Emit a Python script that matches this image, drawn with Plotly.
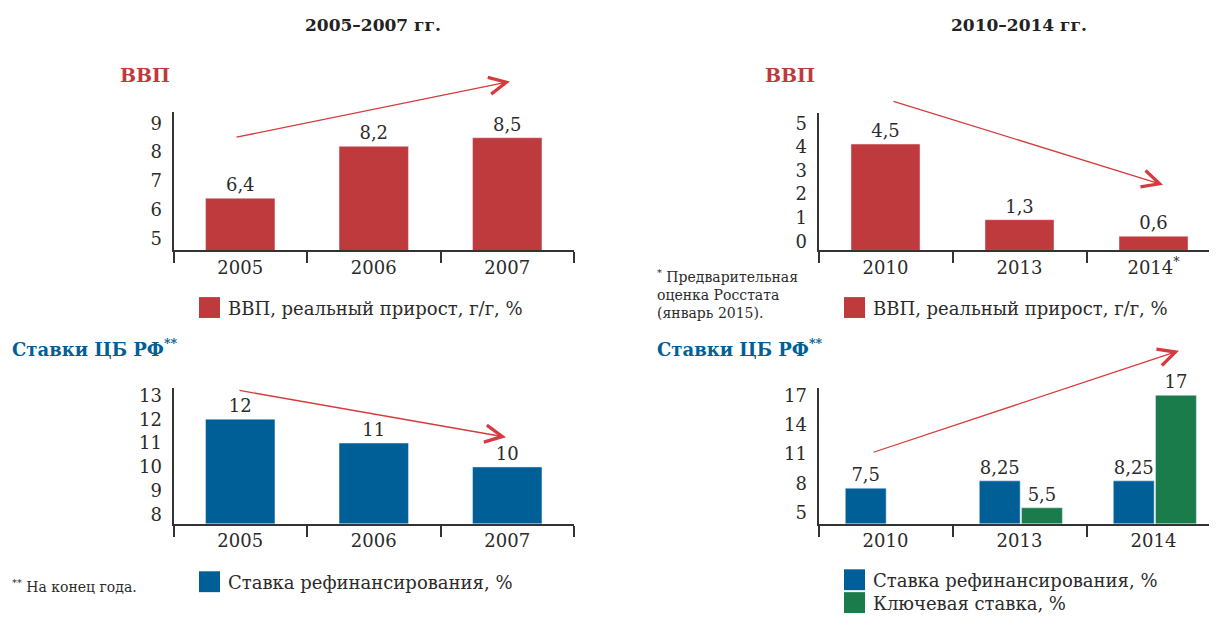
import plotly.graph_objects as go

# Data
years_a = ["2005", "2006", "2007"]
years_b = ["2010", "2013", "2014"]
years_b_labels = ["2010", "2013", "2014<sup>*</sup>"]

gdp_a = [6.4, 8.2, 8.5]
gdp_b = [4.5, 1.3, 0.6]
refi_a = [12, 11, 10]
refi_b = [7.5, 8.25, 8.25]
key_rate_b = [None, 5.5, 17]

RED = "#BF3A3D"
BLUE = "#005F97"
GREEN = "#1B7C4B"
ARROW = "#D63A3C"
TXT = "#2b2b2b"
SERIF = "DejaVu Serif"

# the page body keeps an 8px margin, so the figure is 1201x607 placed at (8, 8);
# positions below are measured on the 1217x623 page
OFF = 8
W, H = 1217 - 2 * OFF, 623 - 2 * OFF


def px(x):
    return (x - OFF) / W


def py(y):
    return 1 - (y - OFF) / H


def fmt(vals):
    return ["" if v is None else f"{v:g}".replace(".", ",") for v in vals]


fig = go.Figure()

# top left: GDP 2005-2007
fig.add_trace(go.Bar(x=years_a, y=gdp_a, text=fmt(gdp_a), width=0.52,
                     marker_color=RED, name="ВВП, реальный прирост, г/г, %",
                     xaxis="x", yaxis="y"))
# top right: GDP 2010-2014
fig.add_trace(go.Bar(x=years_b, y=gdp_b, text=fmt(gdp_b), width=0.515, base=-0.38,
                     marker_color=RED, name="ВВП, реальный прирост, г/г, %",
                     xaxis="x2", yaxis="y2"))
# bottom left: refinancing rate 2005-2007
fig.add_trace(go.Bar(x=years_a, y=refi_a, text=fmt(refi_a), width=0.52,
                     marker_color=BLUE, name="Ставка рефинансирования, %",
                     xaxis="x3", yaxis="y3"))
# bottom right: refinancing + key rate
fig.add_trace(go.Bar(x=years_b, y=refi_b, text=fmt(refi_b), width=0.305, offset=-0.3,
                     marker_color=BLUE, name="Ставка рефинансирования, %",
                     xaxis="x4", yaxis="y4"))
fig.add_trace(go.Bar(x=years_b, y=key_rate_b, text=fmt(key_rate_b), width=0.305, offset=0.015,
                     marker_color=GREEN, name="Ключевая ставка, %",
                     xaxis="x4", yaxis="y4"))

fig.update_traces(textposition="outside", cliponaxis=False, showlegend=False,
                  textfont=dict(family=SERIF, size=18, color=TXT),
                  hoverinfo="x+y")

axis_font = dict(family=SERIF, size=18, color=TXT)
xcommon = dict(type="category", showline=True, linecolor="#333", linewidth=2,
               ticks="outside", tickson="boundaries", ticklen=11, tickwidth=2,
               tickcolor="#333", showgrid=False, zeroline=False, tickfont=axis_font,
               fixedrange=True)
ycommon = dict(showline=True, linecolor="#333", linewidth=2, ticks="",
               showgrid=False, zeroline=False, tickfont=axis_font,
               ticklabelstandoff=6, fixedrange=True)

left_dom = [px(173.5), px(574)]
right_dom = [px(818.5), 1.0]
right_max = -0.5 + (1217 - OFF - 818.5) / 134

fig.update_layout(
    xaxis=dict(xcommon, domain=left_dom, range=[-0.5, 2.5], anchor="y"),
    xaxis2=dict(xcommon, domain=right_dom, range=[-0.5, right_max], anchor="y2",
                tickvals=years_b, ticktext=years_b_labels),
    xaxis3=dict(xcommon, domain=left_dom, range=[-0.5, 2.5], anchor="y3"),
    xaxis4=dict(xcommon, domain=right_dom, range=[-0.5, right_max], anchor="y4"),
    yaxis=dict(ycommon, domain=[py(249), py(110)], range=[4.59, 9.38], dtick=1, anchor="x"),
    yaxis2=dict(ycommon, domain=[py(249), py(111)], range=[-0.38, 5.42], dtick=1, anchor="x2"),
    yaxis3=dict(ycommon, domain=[py(524), py(387)], range=[7.625, 13.33], dtick=1, anchor="x3"),
    yaxis4=dict(ycommon, domain=[py(524), py(387)], range=[3.88, 17.8], tick0=5, dtick=3,
                anchor="x4"),
    barmode="group",
    showlegend=False,
    plot_bgcolor="white",
    paper_bgcolor="white",
    margin=dict(l=0, r=0, t=0, b=0),
    font=dict(family=SERIF, color=TXT),
)

annotations = []


def text(x, y, s, size, color=TXT, bold=False, xanchor="left", yanchor="middle", align="left"):
    if bold:
        s = f"<b>{s}</b>"
    annotations.append(dict(x=px(x), y=py(y), xref="paper", yref="paper", text=s,
                            showarrow=False, xanchor=xanchor, yanchor=yanchor, align=align,
                            font=dict(family=SERIF, size=size, color=color)))


# period titles
text(373, 22, "2005–2007 гг.", 17, color="#222", bold=True, xanchor="center")
text(1019, 22, "2010–2014 гг.", 17, color="#222", bold=True, xanchor="center")

# block titles
text(118, 72, "ВВП", 19, color=RED, bold=True)
text(763, 72, "ВВП", 19, color=RED, bold=True)
text(10, 347, "Ставки ЦБ РФ<sup>**</sup>", 18, color=BLUE, bold=True)
text(655, 347, "Ставки ЦБ РФ<sup>**</sup>", 18, color=BLUE, bold=True)

# footnotes
text(655, 264, "<sup>*</sup> Предварительная<br>оценка Росстата<br>(январь 2015).", 14,
     yanchor="top")
text(10, 587, "<sup>**</sup> На конец года.", 14)

# legends (drawn as squares + labels)
legend_items = [
    (199, 296, RED, "ВВП, реальный прирост, г/г, %"),
    (844, 296, RED, "ВВП, реальный прирост, г/г, %"),
    (199, 572, BLUE, "Ставка рефинансирования, %"),
    (844, 570, BLUE, "Ставка рефинансирования, %"),
    (844, 593, GREEN, "Ключевая ставка, %"),
]
shapes = []
for lx, ly, col, label in legend_items:
    shapes.append(dict(type="rect", xref="paper", yref="paper",
                       x0=px(lx), x1=px(lx + 21), y0=py(ly + 21), y1=py(ly),
                       fillcolor=col, line=dict(width=0)))
    text(lx + 27, ly + 11, label, 18)

# trend arrows (tail -> head)
arrows = [
    ((235, 135), (510, 79)),
    ((892, 99), (1163, 183)),
    ((238, 390), (506, 437)),
    ((872, 452), (1179, 350)),
]
for (tx, ty), (hx, hy) in arrows:
    annotations.append(dict(x=px(hx), y=py(hy), xref="paper", yref="paper",
                            ax=tx - hx, ay=ty - hy, axref="pixel", ayref="pixel",
                            text="", showarrow=True, arrowhead=5, arrowsize=2.6,
                            arrowwidth=1.3, arrowcolor=ARROW, standoff=0))

fig.update_layout(annotations=annotations, shapes=shapes)

fig.write_html("out.html")
